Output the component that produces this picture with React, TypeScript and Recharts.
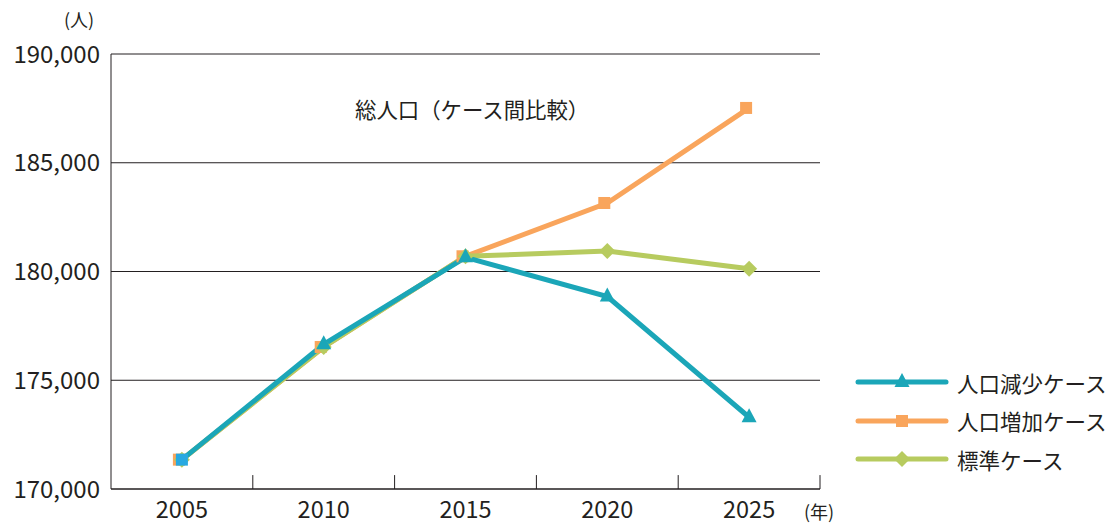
import {
  LineChart,
  Line,
  XAxis,
  YAxis,
  CartesianGrid,
  ReferenceLine,
} from "recharts";

const years = ["2005", "2010", "2015", "2020", "2025"];
const decline = [171350, 176650, 180650, 178850, 173300];
const growth = [171350, 176530, 180700, 183150, 187520];
const standard = [171350, 176530, 180700, 180940, 180130];
const yTicks = [170000, 175000, 180000, 185000, 190000];
const bandEdges = [1, 2, 3, 4, 5];
const legendNames = ["人口減少ケース", "人口増加ケース", "標準ケース"];

const TEAL = "#1BA6B8";
const ORANGE = "#F9A55C";
const GREEN = "#B7CB5F";
const FIRST_BLUE = "#28A9E1";
const INK = "#231F20";
const FONT = "'Noto Sans CJK JP', 'Noto Sans', sans-serif";

const data = years.map((year, i) => ({
  x: i + 0.5,
  year,
  decline: decline[i],
  growth: growth[i],
  standard: standard[i],
}));

function marker(kind: string, cx: number, cy: number, color: string, key?: any) {
  if (kind === "triangle") {
    return (
      <polygon
        key={key}
        points={`${cx},${cy - 9} ${cx - 7.5},${cy + 5} ${cx + 7.5},${cy + 5}`}
        fill={color}
      />
    );
  }
  if (kind === "square") {
    return <rect key={key} x={cx - 6} y={cy - 6} width={12} height={12} fill={color} />;
  }
  return (
    <polygon
      key={key}
      points={`${cx},${cy - 8} ${cx + 8},${cy} ${cx},${cy + 8} ${cx - 8},${cy}`}
      fill={color}
    />
  );
}

const declineDot = (p: any) =>
  p.index === 0
    ? marker("square", p.cx, p.cy, FIRST_BLUE, p.key ?? p.index)
    : marker("triangle", p.cx, p.cy, TEAL, p.key ?? p.index);
const growthDot = (p: any) => marker("square", p.cx - 3, p.cy, ORANGE, p.key ?? p.index);
const standardDot = (p: any) => marker("diamond", p.cx, p.cy, GREEN, p.key ?? p.index);

const legendItems = [
  { name: legendNames[0], color: TEAL, kind: "triangle" },
  { name: legendNames[1], color: ORANGE, kind: "square" },
  { name: legendNames[2], color: GREEN, kind: "diamond" },
];

function ChartLegend() {
  return (
    <div style={{ position: "absolute", left: 855, top: 363, fontFamily: FONT }}>
      {legendItems.map((it) => (
        <div key={it.name} style={{ display: "flex", alignItems: "center", height: 38.5 }}>
          <svg width={100} height={20} style={{ flex: "none" }}>
            <line x1={3} y1={10} x2={91} y2={10} stroke={it.color} strokeWidth={5} strokeLinecap="round" />
            {marker(it.kind, 47, 10, it.color)}
          </svg>
          <span style={{ fontSize: 21.5, color: INK, marginLeft: 2, whiteSpace: "nowrap" }}>{it.name}</span>
        </div>
      ))}
    </div>
  );
}

export default function App() {
  return (
    <div style={{ position: "absolute", left: 0, top: 0, width: 1109, height: 525, background: "#fff", fontFamily: FONT }}>
      <div style={{ position: "absolute", left: 64, top: 6, fontSize: 18, color: INK }}>(人)</div>
      <div style={{ position: "absolute", left: 804, top: 498, fontSize: 18, color: INK }}>(年)</div>
      <div style={{ position: "absolute", left: 355, top: 93, fontSize: 21.4, color: INK }}>
        総人口（ケース間比較）
      </div>
      <ChartLegend />
      <LineChart
        width={1109}
        height={525}
        data={data}
        margin={{ top: 54, right: 289, left: 0, bottom: 0 }}
      >
        <CartesianGrid vertical={false} stroke={INK} strokeOpacity={1} />
        <XAxis
          dataKey="x"
          type="number"
          domain={[0, 5]}
          ticks={data.map((d) => d.x)}
          tickFormatter={(v: number) => years[Math.floor(v)]}
          tickLine={false}
          axisLine={{ stroke: INK }}
          tickMargin={6}
          height={36}
          tick={{ fill: INK, fontSize: 23.5, fontFamily: FONT }}
        />
        <YAxis
          domain={[170000, 190000]}
          ticks={yTicks}
          tickFormatter={(v: number) => v.toLocaleString("en-US")}
          tickLine={false}
          axisLine={{ stroke: INK }}
          tickMargin={5}
          width={111}
          tick={{ fill: INK, fontSize: 24, fontFamily: FONT }}
        />
        {bandEdges.map((e) => (
          <ReferenceLine
            key={e}
            segment={[
              { x: e, y: 170000 },
              { x: e, y: 170640 },
            ]}
            stroke={INK}
          />
        ))}
        <Line
          dataKey="growth"
          name={legendNames[1]}
          stroke={ORANGE}
          strokeWidth={5}
          dot={growthDot}
          activeDot={false}
          isAnimationActive={false}
        />
        <Line
          dataKey="standard"
          name={legendNames[2]}
          stroke={GREEN}
          strokeWidth={5}
          dot={standardDot}
          activeDot={false}
          isAnimationActive={false}
        />
        <Line
          dataKey="decline"
          name={legendNames[0]}
          stroke={TEAL}
          strokeWidth={5}
          dot={declineDot}
          activeDot={false}
          isAnimationActive={false}
        />
      </LineChart>
    </div>
  );
}
